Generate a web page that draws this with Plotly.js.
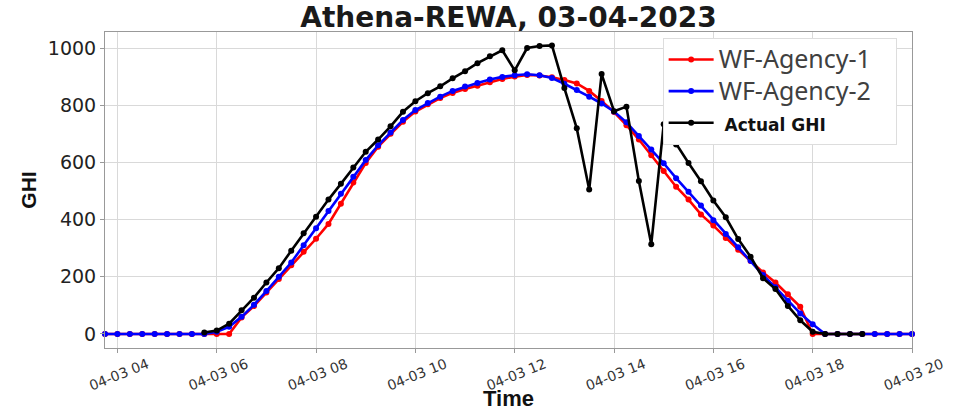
<!DOCTYPE html>
<html>
<head>
<meta charset="utf-8">
<script src="https://cdn.plot.ly/plotly-3.0.1.min.js"></script>
<style>
  html, body { margin: 0; padding: 0; background: #fff; }
  #chart { width: 958px; height: 411px; }
</style>
</head>
<body>
<div id="chart"></div>
<script>
// 15-minute time stamps on 03-04-2023 (shown as 04-03 on the axis)
const times = [
  "03:45","04:00","04:15","04:30","04:45","05:00","05:15","05:30","05:45",
  "06:00","06:15","06:30","06:45","07:00","07:15","07:30","07:45",
  "08:00","08:15","08:30","08:45","09:00","09:15","09:30","09:45",
  "10:00","10:15","10:30","10:45","11:00","11:15","11:30","11:45",
  "12:00","12:15","12:30","12:45","13:00","13:15","13:30","13:45",
  "14:00","14:15","14:30","14:45","15:00","15:15","15:30","15:45",
  "16:00","16:15","16:30","16:45","17:00","17:15","17:30","17:45",
  "18:00","18:15","18:30","18:45","19:00","19:15","19:30","19:45","20:00"
];

const agency1 = [
  0,0,0,0,0,0,0,0,0,0,0,
  58,98,145,192,240,288,333,385,455,530,598,655,700,742,778,803,825,843,857,868,880,892,900,
  906,904,898,888,876,850,815,776,730,680,625,570,515,470,418,379,336,295,255,215,180,139,95,
  0,0,0,0,0,0,0,0,0
];

const agency2 = [
  0,0,0,0,0,0,0,0,0,
  8,25,60,102,150,200,250,310,370,430,490,550,608,660,705,748,783,808,830,850,865,878,890,899,905,
  908,905,895,875,853,830,806,778,740,692,645,597,545,497,449,398,350,303,256,206,163,116,72,34,
  0,0,0,0,0,0,0,0
];

const actual = [
  null,null,null,null,null,null,null,null,
  5,12,36,83,127,180,230,291,352,410,470,525,582,637,680,726,777,814,842,866,894,919,947,971,992,922,
  1000,1007,1009,860,719,505,909,779,795,535,314,733,663,598,534,467,408,332,270,195,157,98,48,8,
  0,0,0,0,
  null,null,null,null
];

const seriesNames = ["WF-Agency-1", "WF-Agency-2", "Actual GHI"];
const seriesColors = ["#ff0000", "#0000ff", "#000000"];
const dateStr = "2023-04-03 ";
const xVals = times.map(t => dateStr + t);

function legendLabel(k) {
  if (k === 2) {
    return "<span style='font-family:DejaVu Sans;font-size:17px;font-weight:bold;fill:#111'> " + seriesNames[k] + "</span>";
  }
  const pad = k === 0 ? "\u00a0\u00a0\u00a0" : "";
  return "<span style='font-size:25px'>" + seriesNames[k] + pad + "</span>";
}

const traces = [agency1, agency2, actual].map((ys, k) => ({
  x: xVals,
  y: ys,
  type: "scatter",
  mode: "lines+markers",
  name: legendLabel(k),
  line: { color: seriesColors[k], width: 2.6 },
  marker: { color: seriesColors[k], size: 6 },
  cliponaxis: false
}));

const layout = {
  width: 958,
  height: 411,
  margin: { l: 105, r: 46, t: 32, b: 63 },
  paper_bgcolor: "#ffffff",
  plot_bgcolor: "#ffffff",
  showlegend: true,
  title: {
    text: "<b>Athena-REWA, 03-04-2023</b>",
    font: { family: "DejaVu Sans", size: 28, color: "#1a1a1a" },
    x: 0.5, xref: "paper", xanchor: "center",
    y: 0.958, yref: "container", yanchor: "middle"
  },
  xaxis: {
    type: "date",
    range: [dateStr + "03:45", dateStr + "20:00"],
    tick0: dateStr + "04:00",
    dtick: 7200000,
    tickformat: "%m-%d %H",
    tickangle: -22,
    ticklabelshift: 30,
    ticklabelstandoff: -2,
    tickfont: { family: "DejaVu Sans", size: 14, color: "#333" },
    showgrid: true,
    gridcolor: "#d9d9d9",
    gridwidth: 1,
    zeroline: false,
    showline: true,
    linecolor: "#999",
    linewidth: 1,
    mirror: true,
    ticks: "outside",
    ticklen: 4,
    tickcolor: "#999",
    title: {
      text: "<b>Time</b>",
      font: { family: "Liberation Sans", size: 22, color: "#111" },
      standoff: 4
    }
  },
  yaxis: {
    range: [-49, 1056],
    tick0: 0,
    dtick: 200,
    tickfont: { family: "DejaVu Sans", size: 19, color: "#222" },
    showgrid: true,
    gridcolor: "#d9d9d9",
    gridwidth: 1,
    zeroline: false,
    showline: true,
    linecolor: "#999",
    linewidth: 1,
    mirror: true,
    ticks: "outside",
    ticklen: 4,
    tickcolor: "#999",
    title: {
      text: "<b>GHI</b>",
      font: { family: "Liberation Sans", size: 21, color: "#111" },
      standoff: 5
    }
  },
  legend: {
    x: 0.691, y: 0.982, xanchor: "left", yanchor: "top",
    bgcolor: "#ffffff",
    bordercolor: "#dddddd",
    borderwidth: 1,
    itemwidth: 45,
    font: { family: "Noto Sans", size: 22, color: "#404040" },
    tracegroupgap: 0
  }
};

Plotly.newPlot("chart", traces, layout, { displayModeBar: false, staticPlot: true });
</script>
</body>
</html>
